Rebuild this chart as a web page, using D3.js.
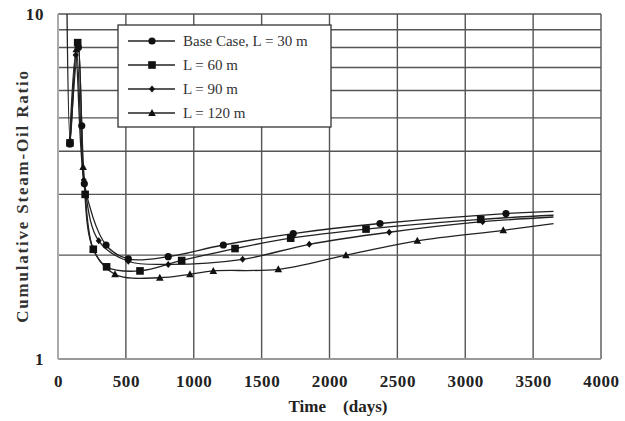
<!DOCTYPE html>
<html><head><meta charset="utf-8">
<script src="https://cdn.jsdelivr.net/npm/d3@7"></script>
<style>body{margin:0;background:#fff}svg{display:block}</style>
</head><body>
<svg id="c" width="625" height="421"></svg>
<script>
const seriesNames = ["Base Case, L = 30 m", "L = 60 m", "L = 90 m", "L = 120 m"];
const markerTypes = ["circle", "square", "diamond", "triangle"];
const baseCase = [[88,4.2],[150,8.0],[175,4.74],[194,3.22],[354,2.14],[518,1.95],[812,1.98],[1218,2.14],[1733,2.31],[2372,2.47],[3300,2.64],[3650,2.68]];
const l60 = [[88,4.23],[145,8.26],[200,3.0],[260,2.08],[358,1.85],[604,1.80],[911,1.93],[1304,2.09],[1714,2.24],[2269,2.38],[3114,2.54],[3650,2.61]];
const l90 = [[85,4.2],[130,7.6],[190,3.3],[300,2.2],[518,1.92],[812,1.88],[1360,1.945],[1851,2.15],[2440,2.33],[3128,2.50],[3650,2.58]];
const l120 = [[66,10.5],[90,4.3],[135,7.9],[185,3.6],[260,2.08],[420,1.76],[750,1.72],[972,1.76],[1144,1.80],[1623,1.82],[2121,2.0],[2647,2.20],[3280,2.36],[3650,2.47]];
const seriesData = [baseCase, l60, l90, l120];
const xTicks = [0,500,1000,1500,2000,2500,3000,3500,4000];
const yGrid = [1,2,3,4,5,6,7,8,9,10];
const yLabels = [1,10];

const svg = d3.select("#c");
const m = {l:58, r:601, t:14, b:359};
const x = d3.scaleLinear().domain([0,4000]).range([m.l, m.r]);
const y = d3.scaleLog().domain([1,10]).range([m.b, m.t]);
const serif = "'Liberation Serif','Times New Roman',serif";

svg.append("defs").append("clipPath").attr("id","clip")
  .append("rect").attr("x",m.l).attr("y",m.t).attr("width",m.r-m.l).attr("height",m.b-m.t);

// grid
svg.append("g").selectAll("line").data(xTicks.slice(1,-1)).join("line")
  .attr("x1",d=>x(d)).attr("x2",d=>x(d)).attr("y1",m.t).attr("y2",m.b)
  .attr("stroke","#555").attr("stroke-width",1.4);
svg.append("g").selectAll("line").data(yGrid.slice(1,-1)).join("line")
  .attr("x1",m.l).attr("x2",m.r).attr("y1",d=>y(d)).attr("y2",d=>y(d))
  .attr("stroke","#555").attr("stroke-width",1.4);
// frame
svg.append("line").attr("x1",m.l).attr("x2",m.r).attr("y1",m.t).attr("y2",m.t).attr("stroke","#555").attr("stroke-width",1.4);
svg.append("line").attr("x1",m.r).attr("x2",m.r).attr("y1",m.t).attr("y2",m.b).attr("stroke","#555").attr("stroke-width",1.4);
svg.append("line").attr("x1",m.l).attr("x2",m.r).attr("y1",m.b).attr("y2",m.b).attr("stroke","#999").attr("stroke-width",2);
svg.append("line").attr("x1",m.l).attr("x2",m.l).attr("y1",m.t).attr("y2",m.b).attr("stroke","#aaa").attr("stroke-width",2);

// axes labels
const xAxis = d3.axisBottom(x).tickValues(xTicks).tickSize(0).tickPadding(16).tickFormat(d3.format("d"));
const gx = svg.append("g").attr("transform",`translate(0,${m.b})`).call(xAxis);
gx.select(".domain").remove();
gx.selectAll("text").attr("font-family",serif).attr("font-weight","bold").attr("font-size",17).attr("letter-spacing",0.6).attr("fill","#222");
const yAxis = d3.axisLeft(y).tickValues(yLabels).tickSize(0).tickPadding(14).tickFormat(d3.format("d"));
const gy = svg.append("g").attr("transform",`translate(${m.l},0)`).call(yAxis);
gy.select(".domain").remove();
gy.selectAll("text").attr("font-family",serif).attr("font-weight","bold").attr("font-size",17).attr("letter-spacing",0.6).attr("fill","#222");

svg.append("text").attr("x",338).attr("y",412).attr("text-anchor","middle")
  .attr("font-family",serif).attr("font-weight","bold").attr("font-size",17).attr("fill","#222")
  .attr("xml:space","preserve").text("Time    (days)");
svg.append("text").attr("transform","translate(28,196) rotate(-90)").attr("text-anchor","middle")
  .attr("font-family",serif).attr("font-weight","bold").attr("font-size",17).attr("fill","#333")
  .attr("letter-spacing",1.8).text("Cumulative Steam-Oil Ratio");

// lines
const line = d3.line().x(d=>x(d[0])).y(d=>y(d[1])).curve(d3.curveCatmullRom.alpha(0.5));
const plot = svg.append("g").attr("clip-path","url(#clip)");
seriesData.forEach((s,i)=>{
  plot.append("path").attr("d",line(s)).attr("fill","none").attr("stroke","#222").attr("stroke-width",1.3);
});

function marker(g, type, cx, cy){
  if(type==="circle") g.append("circle").attr("cx",cx).attr("cy",cy).attr("r",3.6).attr("fill","#111");
  else if(type==="square") g.append("rect").attr("x",cx-3.8).attr("y",cy-3.8).attr("width",7.6).attr("height",7.6).attr("fill","#111");
  else if(type==="diamond") g.append("path").attr("d",`M${cx},${cy-3.5}L${cx+3},${cy}L${cx},${cy+3.5}L${cx-3},${cy}Z`).attr("fill","#111");
  else g.append("path").attr("d",`M${cx},${cy-4}L${cx+3.8},${cy+3}L${cx-3.8},${cy+3}Z`).attr("fill","#111");
}
seriesData.forEach((s,i)=>{
  const g = plot.append("g");
  s.slice(0,-1).filter(d=>d[1]<=10).forEach(d=>marker(g, markerTypes[i], x(d[0]), y(d[1])));
});

// legend
const lg = svg.append("g");
lg.append("rect").attr("x",118).attr("y",25).attr("width",213).attr("height",102)
  .attr("fill","#fff").attr("stroke","#333").attr("stroke-width",1.3);
seriesNames.forEach((n,i)=>{
  const ly = 41 + i*24;
  lg.append("line").attr("x1",128).attr("x2",175).attr("y1",ly).attr("y2",ly).attr("stroke","#222").attr("stroke-width",1.3);
  marker(lg, markerTypes[i], 152, ly);
  lg.append("text").attr("x",183).attr("y",ly+5).attr("font-family",serif).attr("font-size",15).attr("fill","#333").text(n);
});
</script>
</body></html>
